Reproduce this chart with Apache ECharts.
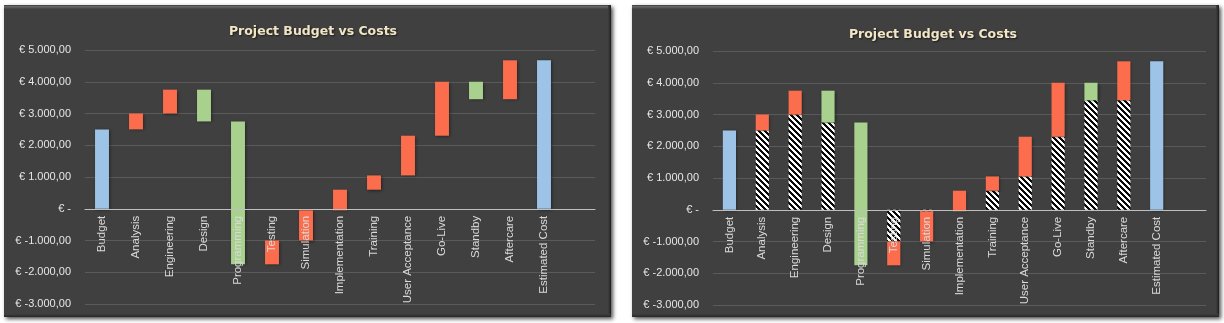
<!DOCTYPE html>
<html>
<head>
<meta charset="utf-8">
<script src="https://cdn.jsdelivr.net/npm/echarts@6/dist/echarts.min.js"></script>
<style>
html,body{margin:0;padding:0;background:#ffffff;}
#c{width:1224px;height:323px;}
</style>
</head>
<body>
<div id="c"></div>
<script>
// ---- data ----
var categories = ['Budget','Analysis','Engineering','Design','Programming','Testing','Simulation','Implementation','Training','User Acceptance','Go-Live','Standby','Aftercare','Estimated Cost',''];
var fromValues = [0, 2500, 3000, 3750, 2750, -1750, -1000, -50, 600, 1050, 2300, 4000, 3450, 0];
var toValues   = [2500, 3000, 3750, 2750, -1750, -1000, -50, 600, 1050, 2300, 4000, 3450, 4675, 4675];
var kinds      = ['total','up','up','down','down','up','up','up','up','up','up','down','up','total'];
var hatchBase  = [null, 2500, 3000, 2750, null, -1000, -50, null, 600, 1050, 2300, 3450, 3450, null];
var yTicks = {min: -3000, max: 5000, interval: 1000};
var titleText = 'Project Budget vs Costs';

var kindColors = {total: '#9dc3e6', up: '#fb6d4c', down: '#a9d18e'};

// hatch pattern
var P = 6;
var pc = document.createElement('canvas');
pc.width = P; pc.height = P;
var pctx = pc.getContext('2d');
var img = pctx.createImageData(P, P);
for (var y = 0; y < P; y++) {
  for (var x = 0; x < P; x++) {
    var k = ((x - y) % P + P) % P;
    var w = k < 3 ? 255 : 10;
    var idx = (y * P + x) * 4;
    img.data[idx] = w; img.data[idx+1] = w; img.data[idx+2] = w; img.data[idx+3] = 255;
  }
}
pctx.putImageData(img, 0, 0);

function fmt(v) {
  if (v === 0) return '€ -';
  var neg = v < 0; var a = Math.abs(v);
  var s = String(Math.round(a)).replace(/\B(?=(\d{3})+(?!\d))/g, '.');
  return '€ ' + (neg ? '-' : '') + s + ',00';
}

var floatData = fromValues.map(function (f, i) { return [i, Math.min(f, toValues[i]), Math.max(f, toValues[i]), kinds[i]]; });
var hatchData = [];
hatchBase.forEach(function (b, i) { if (b !== null) hatchData.push([i, Math.min(0, b), Math.max(0, b)]); });

function floatRender(ratio) {
  return function (params, api) {
    var i = api.value(0);
    var p1 = api.coord([i, api.value(2)]);
    var p2 = api.coord([i, api.value(1)]);
    var bw = api.size([1, 0])[0] * ratio;
    var kind = floatData[params.dataIndex][3];
    return {
      type: 'rect',
      shape: {x: p1[0] - bw / 2, y: p1[1], width: bw, height: p2[1] - p1[1]},
      style: {fill: kindColors[kind], shadowBlur: 3, shadowColor: 'rgba(0,0,0,0.45)', shadowOffsetX: 1, shadowOffsetY: 1}
    };
  };
}
function hatchRender(ratio) {
  return function (params, api) {
    var i = api.value(0);
    var p1 = api.coord([i, api.value(2)]);
    var p2 = api.coord([i, api.value(1)]);
    var bw = api.size([1, 0])[0] * ratio;
    return {
      type: 'rect',
      shape: {x: p1[0] - bw / 2, y: p1[1], width: bw, height: p2[1] - p1[1]},
      style: {fill: {image: pc, repeat: 'repeat'}}
    };
  };
}

var gridH = 254;
var zeroOffset = -gridH * (0 - yTicks.min) / (yTicks.max - yTicks.min);

function xAxisOpt(gi) {
  return {
    type: 'category', gridIndex: gi, data: categories, z: 10, position: 'bottom', offset: zeroOffset,
    axisLine: {onZero: false, lineStyle: {color: '#bfbfbf', width: 1}},
    axisTick: {show: false},
    axisLabel: {rotate: 90, interval: 0, color: '#d9d9d9', fontSize: 11.5, fontFamily: 'Liberation Sans', margin: 7},
    splitLine: {show: false}
  };
}
function yAxisOpt(gi) {
  return {
    type: 'value', gridIndex: gi, min: yTicks.min, max: yTicks.max, interval: yTicks.interval,
    axisLine: {show: false}, axisTick: {show: false},
    axisLabel: {color: '#e6e6e6', fontSize: 11, fontFamily: 'Liberation Sans', margin: 14, formatter: fmt},
    splitLine: {lineStyle: {color: '#5a5a5a', width: 1}}
  };
}

function panel(x, y, w, h) {
  return [
    {type: 'rect', shape: {x: x, y: y, width: w, height: h}, z: -10,
     style: {fill: '#404040', shadowBlur: 4, shadowColor: 'rgba(0,0,0,0.7)', shadowOffsetX: 2, shadowOffsetY: 2}},
    {type: 'rect', shape: {x: x, y: y, width: w, height: 4}, z: -9,
     style: {fill: {type: 'linear', x: 0, y: 0, x2: 0, y2: 1, colorStops: [{offset: 0, color: '#3a3a3a'}, {offset: 0.4, color: '#686868'}, {offset: 1, color: '#434343'}]}}},
    {type: 'rect', shape: {x: x + w - 3, y: y, width: 3, height: h}, z: -9,
     style: {fill: {type: 'linear', x: 0, y: 0, x2: 1, y2: 0, colorStops: [{offset: 0, color: '#404040'}, {offset: 1, color: '#1e1e1e'}]}}},
    {type: 'rect', shape: {x: x, y: y + h - 3, width: w, height: 3}, z: -9,
     style: {fill: {type: 'linear', x: 0, y: 0, x2: 0, y2: 1, colorStops: [{offset: 0, color: '#404040'}, {offset: 1, color: '#262626'}]}}}
  ];
}

var titleStyle = {color: '#f2e6c6', fontSize: 12.5, fontWeight: 'bold', fontFamily: 'DejaVu Sans', textShadowColor: 'rgba(0,0,0,0.6)', textShadowBlur: 2, textShadowOffsetX: 1, textShadowOffsetY: 1};

var chart = echarts.init(document.getElementById('c'), null, {renderer: 'canvas'});
chart.setOption({
  animation: false,
  backgroundColor: '#ffffff',
  graphic: panel(4, 5, 607, 312).concat(panel(632, 5, 587, 312)),
  title: [
    {text: titleText, left: 308, top: 20, textAlign: 'center', textStyle: titleStyle},
    {text: titleText, left: 928, top: 23, textAlign: 'center', textStyle: titleStyle}
  ],
  grid: [
    {left: 85, top: 50, width: 510, height: gridH, containLabel: false, outerBoundsMode: 'none'},
    {left: 713, top: 51, width: 493, height: gridH, containLabel: false, outerBoundsMode: 'none'}
  ],
  xAxis: [xAxisOpt(0), xAxisOpt(1)],
  yAxis: [yAxisOpt(0), yAxisOpt(1)],
  series: [
    {type: 'custom', xAxisIndex: 0, yAxisIndex: 0, data: floatData, encode: {x: 0, y: [1, 2]}, renderItem: floatRender(0.41)},
    {type: 'custom', xAxisIndex: 1, yAxisIndex: 1, data: hatchData, encode: {x: 0, y: [1, 2]}, renderItem: hatchRender(0.40)},
    {type: 'custom', xAxisIndex: 1, yAxisIndex: 1, data: floatData, encode: {x: 0, y: [1, 2]}, renderItem: floatRender(0.40)}
  ]
});
</script>
</body>
</html>
